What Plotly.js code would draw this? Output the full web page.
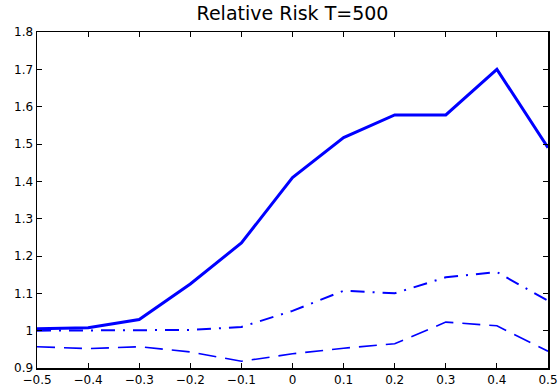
<!DOCTYPE html>
<html>
<head>
<meta charset="utf-8">
<script src="https://cdn.plot.ly/plotly-3.0.1.min.js"></script>
<style>html,body{margin:0;padding:0;background:#fff;}</style>
</head>
<body>
<div id="chart" style="width:560px;height:390px;"></div>
<script>
const xVals = [-0.5, -0.4, -0.3, -0.2, -0.1, 0, 0.1, 0.2, 0.3, 0.4, 0.5];
const solidVals = [1.005, 1.008, 1.030, 1.125, 1.235, 1.410, 1.517, 1.578, 1.578, 1.700, 1.490];
const dashDotVals = [1.000, 1.000, 1.000, 1.002, 1.010, 1.053, 1.107, 1.100, 1.143, 1.157, 1.080];
const dashVals = [0.957, 0.952, 0.957, 0.943, 0.918, 0.938, 0.953, 0.965, 1.023, 1.013, 0.945];
const xTicks = [-0.5, -0.4, -0.3, -0.2, -0.1, 0, 0.1, 0.2, 0.3, 0.4, 0.5];
const xTickText = ['\u22120.5', '\u22120.4', '\u22120.3', '\u22120.2', '\u22120.1', '0', '0.1', '0.2', '0.3', '0.4', '0.5'];
const yTicks = [0.9, 1, 1.1, 1.2, 1.3, 1.4, 1.5, 1.6, 1.7, 1.8];
const yTickText = ['0.9', '1', '1.1', '1.2', '1.3', '1.4', '1.5', '1.6', '1.7', '1.8'];

const blue = '#0000ff';
const fontFam = 'DejaVu Sans, Liberation Sans, Arial, sans-serif';
const traces = [
  {x: xVals, y: solidVals, mode: 'lines', line: {color: blue, width: 3, dash: 'solid'}},
  {x: xVals, y: dashDotVals, mode: 'lines', line: {color: blue, width: 2, dash: '14px,8px,2px,8px'}},
  {x: xVals, y: dashVals, mode: 'lines', line: {color: blue, width: 1.6, dash: '18px,9px'}}
];
const axisCommon = {
  showgrid: false, zeroline: false, showline: true, linecolor: '#000', linewidth: 1.5,
  mirror: 'ticks', ticks: 'inside', ticklen: 5, tickcolor: '#000', tickwidth: 1,
  tickfont: {family: fontFam, size: 12, color: '#000'}
};
const layout = {
  width: 560, height: 390,
  margin: {l: 37, r: 12, t: 32, b: 22, pad: 0},
  paper_bgcolor: '#fff', plot_bgcolor: '#fff',
  showlegend: false,
  title: {text: 'Relative Risk T=500', font: {family: fontFam, size: 19, color: '#000'},
          x: 0.5, xref: 'paper', y: 0.965, yref: 'container', yanchor: 'middle'},
  xaxis: Object.assign({}, axisCommon, {range: [-0.5, 0.5], tickmode: 'array', tickvals: xTicks, ticktext: xTickText}),
  yaxis: Object.assign({}, axisCommon, {range: [0.9, 1.8], tickmode: 'array', tickvals: yTicks, ticktext: yTickText})
};
Plotly.newPlot('chart', traces, layout, {displayModeBar: false, staticPlot: true});
</script>
</body>
</html>
